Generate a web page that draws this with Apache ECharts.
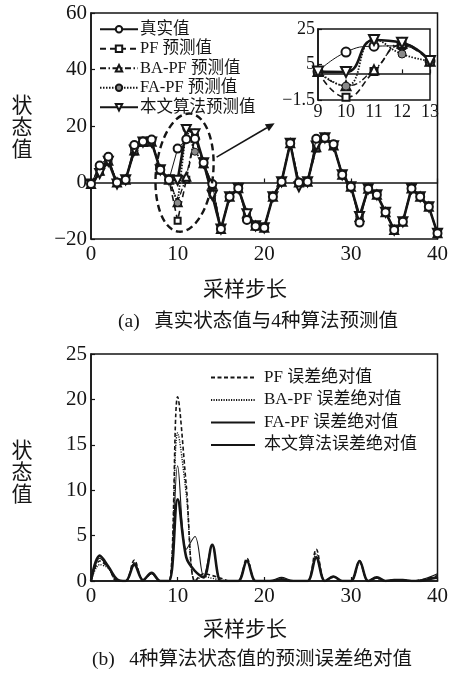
<!DOCTYPE html>
<html>
<head>
<meta charset="utf-8">
<script src="https://cdn.jsdelivr.net/npm/echarts@6/dist/echarts.min.js"></script>
<style>
html,body{margin:0;padding:0;background:#fff;}
#c{width:451px;height:680px;}
</style>
</head>
<body>
<div id="c"></div>
<script>
// sampling steps 0..40
const steps = [0,1,2,3,4,5,6,7,8,9,10,11,12,13,14,15,16,17,18,19,20,21,22,23,24,25,26,27,28,29,30,31,32,33,34,35,36,37,38,39,40];

// (a) true state and the four predictions
const trueVals = [-0.5,6,9.1,0,1,13.3,14.5,15.2,4.5,1,12,15.3,15.5,7,-0.5,-16.5,-5,-2,-13.3,-15.5,-16,-5,0.3,13.9,0,0.3,15.5,15.8,13.5,2.7,-1.5,-14.2,-2.2,-4.3,-10.5,-16.8,-13.9,-2.1,-5,-8.6,-18];
const pfPred   = [-0.5,3.8,7.6,0,1,11.0,14.2,14.4,4.5,1,-13.5,1,16,6.5,-1.1,-16.5,-5,-2,-10.8,-15.3,-16,-5,0.3,13.9,0,0.3,12.0,15.8,13.0,2.7,-1.5,-12.0,-2.2,-4.3,-10.5,-16.8,-13.9,-2.1,-5,-8.6,-18];
const baPred   = [-0.5,4.2,7.7,0,1,11.3,14.3,14.4,4.5,1,-7.0,2,17,6.8,-0.8,-16.5,-5,-2,-11.0,-15.3,-16,-5,0.3,13.9,0,0.3,12.5,15.8,13.1,2.7,-1.5,-12.2,-2.2,-4.3,-10.5,-16.8,-13.9,-2.1,-5,-8.6,-18];
const faPred   = [-0.5,3.5,7.6,0,1,11.3,14.3,14.3,4.5,1,-7.2,19,10.9,7,-4.5,-16.5,-5,-2,-11.1,-15.3,-16,-5,0.7,13.9,0,0.3,13.0,15.8,13.0,2.7,-1.5,-12.0,-2.2,-4.3,-10.5,-16.8,-13.9,-2.1,-5,-8.6,-18];
const ownPred  = [-0.5,3.2,7.5,-0.5,1,11.5,14.3,14.3,4.5,1,0.8,18.8,17.3,7,-4.5,-16.5,-5,-2,-11.1,-15.3,-16,-5,0.3,13.9,-1.5,0.3,12.9,15.8,13.0,2.7,-1.5,-12.0,-2.2,-4.3,-10.5,-16.8,-13.9,-2.1,-5,-8.6,-18];

// (b) absolute prediction errors
const pfErr  = [0,2.2,1.5,0,0,2.3,0.1,0.8,0,0,20.3,10.5,0,0.8,0.6,0.3,0,0,2.5,0,0,0,0.2,0,0,0,3.5,0,0.5,0,0,2.2,0,0.4,0,0.1,0.1,0,0.1,0.3,0.6];
const baErr  = [0,1.8,1.4,0,0,2.0,0.1,0.8,0,0,16.3,9.5,0,0.5,0.3,0.1,0,0,2.3,0,0,0,0.2,0,0,0,3.0,0,0.4,0,0,2.0,0,0.3,0,0.1,0.1,0,0.1,0.3,0.5];
const faErr  = [0,2.5,1.5,0.1,0,2.0,0.1,0.9,0,0,12.7,3.5,4.9,0.5,3.9,0,0,0,2.2,0,0,0.1,0.4,0.1,0,0,2.5,0,0.5,0,0,2.2,0,0.4,0,0.1,0.1,0,0.1,0.4,0.8];
const ownErr = [0,2.8,1.6,0.2,0,1.8,0.1,0.9,0,0,9.0,2.6,1.1,0.4,4.0,0,0,0,2.2,0,0,0,0.2,0,0,0,2.6,0,0.5,0,0,2.2,0,0.4,0,0.1,0.1,0,0,0.2,0.4];

// tick values
const mainXTicks = [0,10,20,30,40];
const mainYTicks = [-20,0,20,40,60];
const zoomXTicks = [9,10,11,12,13];
const zoomYTicks = [-15,5,25];
const errYTicks  = [0,5,10,15,20,25];

const namesA = ['真实值','PF 预测值','BA-PF 预测值','FA-PF 预测值','本文算法预测值'];
const namesB = ['PF 误差绝对值','BA-PF 误差绝对值','FA-PF 误差绝对值','本文算法误差绝对值'];

const FONT = '"Liberation Serif", "Noto Sans CJK SC", serif';
const INK = '#151515';

const pairs = (ys) => steps.map((x, i) => [x, ys[i]]);
const zoomPairs = (ys) => steps.map((x, i) => [x, ys[i]]).filter(p => p[0] >= zoomXTicks[0] && p[0] <= zoomXTicks[zoomXTicks.length - 1]);
const minus = (v) => String(v).replace('-', '\u2212');

const styles = [
  { symbol: 'emptyCircle',   size: 8, rot: 0,   line: { width: 1,   type: 'solid' } },
  { symbol: 'emptyRect',     size: 6, rot: 0,   line: { width: 1.6, type: [6, 4] } },
  { symbol: 'emptyTriangle', size: 8, rot: 0,   line: { width: 1.3, type: [6, 2.5, 1.5, 2.5] } },
  { symbol: 'circle',        size: 7, rot: 0,   line: { width: 1.8, type: [1.5, 1.5] } },
  { symbol: 'emptyTriangle', size: 9, rot: 180, line: { width: 2.6, type: 'solid' } }
];
const predSets = [trueVals, pfPred, baPred, faPred, ownPred];

const axisCommon = {
  axisLine: { show: true, lineStyle: { color: INK, width: 1.5 } },
  axisTick: { show: true, inside: true, length: 4, lineStyle: { color: INK, width: 1.2 } },
  splitLine: { show: false }
};

const series = [];
predSets.forEach((ys, k) => {
  const s = styles[k];
  const base = {
    type: 'line',
    name: namesA[k],
    symbol: s.symbol,
    symbolRotate: s.rot,
    symbolSize: s.size,
    lineStyle: { color: INK, width: s.line.width, type: s.line.type },
    itemStyle: k === 3 ? { color: '#8a8a8a', borderColor: INK, borderWidth: 1 } : { color: INK, borderWidth: 1 },
    z: k === 0 ? 6 : 3 + k * 0.1,
    animation: false
  };
  series.push(Object.assign({}, base, { xAxisIndex: 0, yAxisIndex: 0, data: pairs(ys) }));
  series.push(Object.assign({}, base, {
    xAxisIndex: 1, yAxisIndex: 1, data: zoomPairs(ys), smooth: 0.5,
    symbolSize: s.size + 1, z: 10 + k * 0.1
  }));
});

const errSets = [pfErr, baErr, faErr, ownErr];
const errStyles = [
  { width: 1.6, type: [4, 2.5] },
  { width: 1.4, type: [1.2, 1.3] },
  { width: 1.1, type: 'solid' },
  { width: 2.6, type: 'solid' }
];
errSets.forEach((ys, k) => {
  series.push({
    type: 'line', name: namesB[k], xAxisIndex: 2, yAxisIndex: 2,
    data: pairs(ys), smooth: 0.35, symbol: 'none',
    lineStyle: { color: INK, width: errStyles[k].width, type: errStyles[k].type },
    itemStyle: { color: INK },
    z: 3 + k * 0.1, animation: false
  });
});

const chart = echarts.init(document.getElementById('c'), null, { renderer: 'canvas' });
chart.setOption({
  backgroundColor: '#fff',
  animation: false,
  textStyle: { fontFamily: FONT, color: INK },
  grid: [
    { left: 91, top: 13, width: 349, height: 226, show: true, borderColor: INK, borderWidth: 1.5, backgroundColor: 'transparent' },
    { left: 318, top: 29, width: 112, height: 71, show: true, borderColor: INK, borderWidth: 1.5, backgroundColor: '#fff', z: 8 },
    { left: 91, top: 354, width: 349, height: 227, show: true, borderColor: INK, borderWidth: 1.5, backgroundColor: 'transparent' }
  ],
  xAxis: [
    Object.assign({}, axisCommon, { gridIndex: 0, type: 'value', min: mainXTicks[0], max: mainXTicks[4], interval: 10,
      axisLabel: { fontSize: 21, color: INK, margin: 5, fontFamily: FONT } }),
    Object.assign({}, axisCommon, { gridIndex: 1, type: 'value', min: zoomXTicks[0], max: zoomXTicks[4], interval: 1, z: 9,
      axisTick: { show: true, inside: true, length: 4, lineStyle: { color: INK, width: 1.2 } },
      axisLabel: { fontSize: 18, color: INK, margin: 3, fontFamily: FONT } }),
    Object.assign({}, axisCommon, { gridIndex: 2, type: 'value', min: mainXTicks[0], max: mainXTicks[4], interval: 10,
      axisLabel: { fontSize: 21, color: INK, margin: 5, fontFamily: FONT } })
  ],
  yAxis: [
    Object.assign({}, axisCommon, { gridIndex: 0, type: 'value', min: mainYTicks[0], max: mainYTicks[4], interval: 20,
      axisLabel: { fontSize: 21, color: INK, margin: 4, fontFamily: FONT, formatter: minus } }),
    Object.assign({}, axisCommon, { gridIndex: 1, type: 'value', min: zoomYTicks[0], max: zoomYTicks[2], interval: 20, z: 9,
      axisLabel: { fontSize: 18, color: INK, margin: 3, fontFamily: FONT,
        formatter: (v) => v === zoomYTicks[0] ? '\u22121.5' : String(v) } }),
    Object.assign({}, axisCommon, { gridIndex: 2, type: 'value', min: errYTicks[0], max: errYTicks[5], interval: 5,
      axisLabel: { fontSize: 21, color: INK, margin: 4, fontFamily: FONT } })
  ],
  legend: [
    { data: namesA, orient: 'vertical', left: 94, top: 16, itemWidth: 38, itemHeight: 8, itemGap: 3,
      textStyle: { fontSize: 16.5, color: INK, fontFamily: FONT, padding: [0, 0, 0, -3] }, selectedMode: false },
    { data: namesB, orient: 'vertical', left: 205, top: 364, itemWidth: 44, itemHeight: 8, itemGap: 5.5,
      itemStyle: { opacity: 0 },
      textStyle: { fontSize: 17, color: INK, fontFamily: FONT, padding: [0, 0, 0, 4] }, selectedMode: false }
  ],
  series: series
});

// labels, captions and the zoom annotation
const px = (x, y) => chart.convertToPixel({ gridIndex: 0 }, [x, y]);
const c = px(10.8, 3.5);
const edge = px(10.8 + 3.3, 3.5 + 21);
const tail = px(14.5, 9);
const head = px(21.2, 21);
const ang = Math.atan2(head[1] - tail[1], head[0] - tail[0]);
const ah = 9, aw = 4;
const hx = head[0], hy = head[1];
const bx = hx - ah * Math.cos(ang), by = hy - ah * Math.sin(ang);
const nx = -Math.sin(ang) * aw, ny = Math.cos(ang) * aw;

const txt = (text, x, y, size, extra) => Object.assign({
  type: 'text', x: x, y: y, z: 20,
  style: Object.assign({ text: text, fill: INK, font: size + 'px ' + FONT, align: 'center', verticalAlign: 'middle' }, extra || {})
});

chart.setOption({
  graphic: [
    { type: 'ellipse', z: 7, x: c[0], y: c[1], rotation: -0.1,
      shape: { cx: 0, cy: 0, rx: edge[0] - c[0], ry: c[1] - edge[1] },
      style: { fill: 'none', stroke: INK, lineWidth: 2.4, lineDash: [7, 4] } },
    { type: 'line', z: 7, shape: { x1: tail[0], y1: tail[1], x2: bx, y2: by },
      style: { stroke: INK, lineWidth: 1.6 } },
    { type: 'polygon', z: 7, shape: { points: [[hx, hy], [bx + nx, by + ny], [bx - nx, by - ny]] },
      style: { fill: INK } },
    txt('状\n态\n值', 22, 128, 21, { lineHeight: 22 }),
    txt('状\n态\n值', 22, 473, 21, { lineHeight: 22 }),
    txt('采样步长', 245, 290, 21),
    txt('采样步长', 245, 630, 21),
    txt('(a)\u2002 真实状态值与4种算法预测值', 258, 322, 19.5),
    txt('(b)\u2002 4种算法状态值的预测误差绝对值', 252, 660, 19.5)
  ]
});
</script>
</body>
</html>
